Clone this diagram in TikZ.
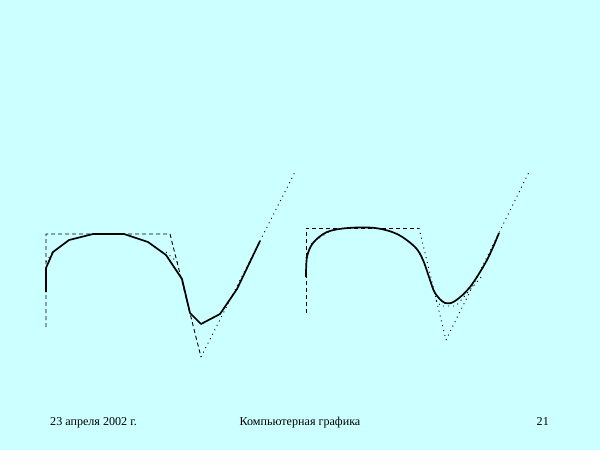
\documentclass[tikz,border=0pt]{standalone}
\usepackage{fontspec}
\setmainfont{Liberation Serif}
\begin{document}
\begin{tikzpicture}[x=1pt,y=-1pt,
  poly/.style={line width=0.9pt, dash pattern=on 4pt off 3pt},
  dots/.style={line width=0.9pt, dash pattern=on 1pt off 4pt},
  curve/.style={line width=1.7pt, line join=round},
  lbl/.style={font=\fontsize{12.1}{14}\selectfont, inner sep=0pt, anchor=base}]
\fill[fill={rgb,255:red,204;green,255;blue,255}] (0,0) rectangle (600,450);
\useasboundingbox (0,0) rectangle (600,450);
% left figure
\draw[poly] (46,327) -- (46,234) -- (170,234) -- (201,357);
\draw[dots] (201,357) -- (295,172);
\draw[dots] (46,262) -- (54,250);
\draw[dots] (166,252) -- (178,263);
\draw[curve] (46,292) -- (46,268) -- (53,252) -- (69,240) -- (93,234) -- (124,234) -- (148,242) -- (166,255) -- (182,279) -- (190,313) -- (201,324) -- (220,314) -- (237,289) -- (260,241);
% right figure
\draw[poly] (306,313) -- (306,228) -- (419,228);
\draw[dots] (419,228) -- (446,340);
\draw[dots] (446,340) -- (530,170);
\draw[dots] (306,258) -- (312,243) -- (330,231);
\draw[dots] (436,300) -- (441,306) -- (456,306) -- (482,276);
\draw[curve] plot[smooth, tension=0.55] coordinates {(306,277) (307,257) (313,243) (327,232) (348,228) (375,228) (397,234) (415,247) (423,260) (429,277) (435,293) (445,303) (455,301) (470,287) (487,260) (499,233)};
% footer
\node[lbl, anchor=base west] (date) at (50,425) {23 апреля 2002 г.};
\node[lbl] (title) at (300,425) {Компьютерная графика};
\node[lbl, anchor=base east] (page) at (549,425) {21};
\end{tikzpicture}
\end{document}
